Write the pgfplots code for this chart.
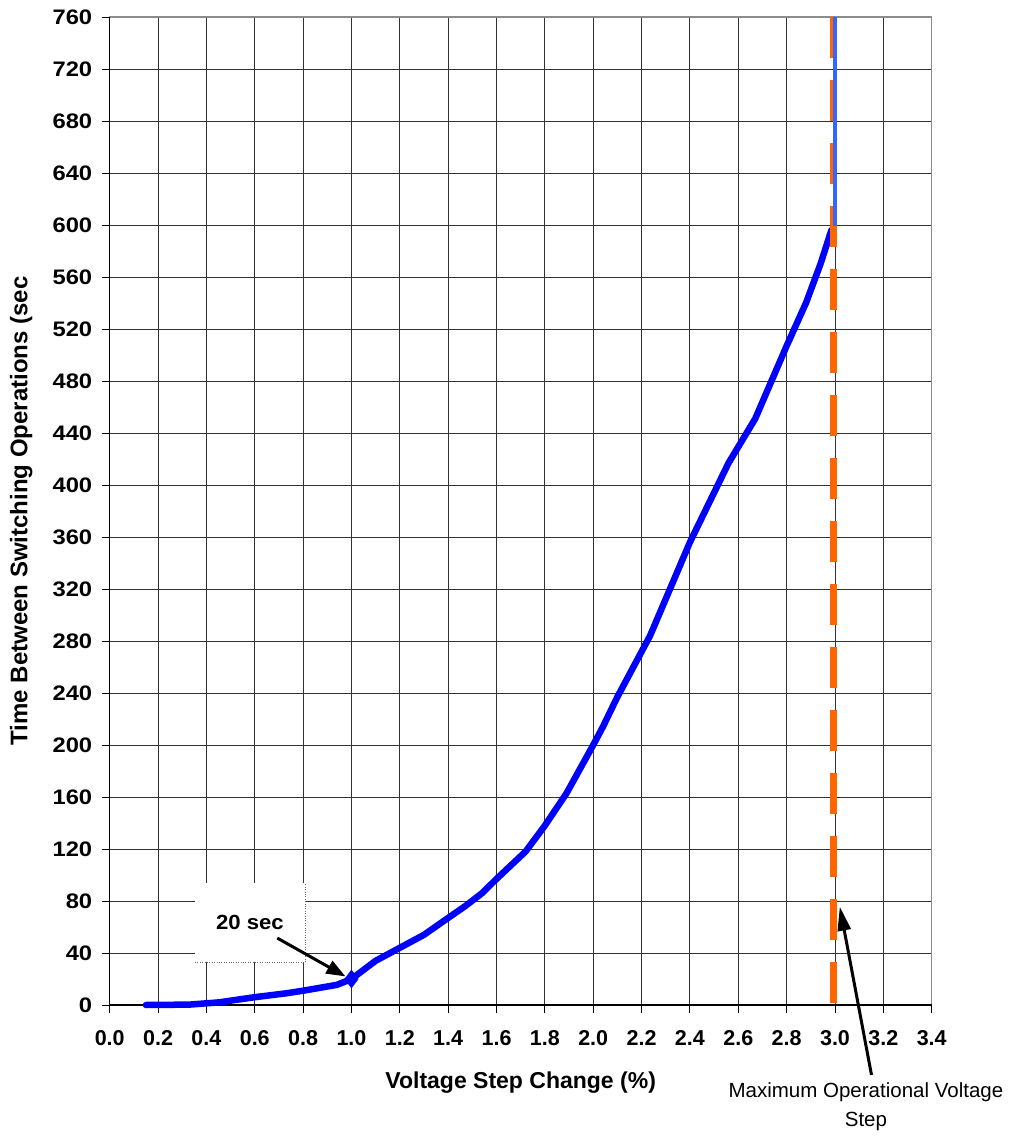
\documentclass[border=0pt]{standalone}
\usepackage{pgfplots}
\pgfplotsset{compat=1.18}
\usetikzlibrary{arrows.meta}
\usepackage{fontspec}
\setmainfont{Liberation Sans}

\definecolor{curveblue}{RGB}{0,0,255}
\definecolor{capblue}{RGB}{51,102,255}
\definecolor{limitorange}{RGB}{255,102,0}

\begin{document}
\begin{tikzpicture}
\useasboundingbox (-109.7pt,-131pt) rectangle (903.3pt,1005pt);
\begin{axis}[
    at={(0,0)}, anchor=south west,
    scale only axis, width=822pt, height=988pt,
    xmin=0, xmax=3.4, ymin=0, ymax=760,
    xtick={0,0.2,0.4,0.6,0.8,1.0,1.2,1.4,1.6,1.8,2.0,2.2,2.4,2.6,2.8,3.0,3.2,3.4},
    ytick={0,40,...,760},
    tick pos=left, tick align=outside,
    major tick length=8pt,
    tick style={black, line width=0.9pt},
    grid=major,
    grid style={black!80, line width=0.9pt},
    axis line style={gray!90, line width=1.4pt},
    /pgf/number format/assume math mode=true,
    typeset ticklabels with strut,
    xticklabel style={font=\fontsize{21.5}{21.5}\selectfont\bfseries, yshift=-14pt,
        /pgf/number format/.cd, fixed, fixed zerofill, precision=1},
    yticklabel={\scalebox{1.13}[1]{\pgfmathprintnumber{\tick}}},
    yticklabel style={font=\fontsize{21}{21}\selectfont\bfseries, xshift=-6pt},
    xlabel={Voltage Step Change (\%)},
    ylabel={Time Between Switching Operations (sec},
    xlabel style={font=\fontsize{23}{23}\selectfont\bfseries,
        at={(axis description cs:0.5,-0.079)}, anchor=center},
    ylabel style={font=\fontsize{24}{24}\selectfont\bfseries,
        at={(axis description cs:-0.1077,0.5)}, anchor=center},
    clip=false,
]
% left and bottom axis lines are black, top and right are gray
\draw[black, line width=1.4pt] (rel axis cs:0,1) -- (rel axis cs:0,0) -- (rel axis cs:1,0);

% time between operations
\addplot[curveblue, line width=6.5pt, line join=round, line cap=round] coordinates {
    (0.15,0) (0.33,0.3) (0.45,2) (0.6,6) (0.73,9) (0.8,11) (0.94,15.5)
    (1.0,20) (1.1,34) (1.2,44) (1.3,54) (1.4,67) (1.47,76) (1.54,86)
    (1.6,97) (1.72,118) (1.8,138) (1.89,163) (2.0,200) (2.04,214)
    (2.1,237) (2.235,284) (2.4,356) (2.56,417) (2.67,451) (2.8,507)
    (2.88,540) (2.94,570) (2.985,596)
};
\addplot[only marks, mark=diamond*, mark size=9pt, curveblue] coordinates {(1.0,20)};

% maximum operational voltage step
\addplot[limitorange, line width=7pt, dash pattern=on 41pt off 22pt] coordinates {(2.993,760) (2.993,0)};
\addplot[capblue, line width=4pt] coordinates {(3.0,599) (3.0,760)};

% 20 sec callout
\fill[white] (axis cs:0.353,33.1) rectangle (axis cs:0.808,93.8);
\draw[black!60, dotted] (axis cs:0.353,33.1) -- (axis cs:0.808,33.1) -- (axis cs:0.808,93.8);
\node[font=\fontsize{20.5}{20.5}\selectfont\bfseries] at (axis cs:0.58,63.8) {\scalebox{1.08}[1]{20 sec}};
\draw[-{Triangle[length=19pt,width=14pt]}, line width=3pt] (axis cs:0.693,51.5) -- (axis cs:0.975,22);

% limit callout
\draw[-{Triangle[length=24pt,width=13pt]}, line width=3pt] (axis cs:3.151,-53.8) -- (axis cs:3.02,75.6);
\node[anchor=base, font=\fontsize{20.5}{20.5}\selectfont] at (axis cs:3.128,-71.5) {Maximum Operational Voltage};
\node[anchor=base, font=\fontsize{20.5}{20.5}\selectfont] at (axis cs:3.128,-93.6) {Step};
\end{axis}
\end{tikzpicture}
\end{document}
